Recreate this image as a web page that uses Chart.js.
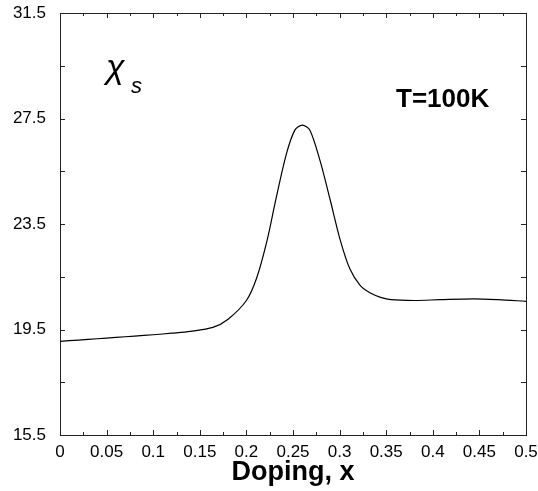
<!DOCTYPE html>
<html>
<head>
<meta charset="utf-8">
<script src="https://cdn.jsdelivr.net/npm/chart.js@4"></script>
<style>
  html, body { margin: 0; padding: 0; background: #fff; }
  #wrap { width: 538px; height: 491px; }
</style>
</head>
<body>
<div id="wrap"><canvas id="chi-chart"></canvas></div>
<script>
// Données (dopage x, susceptibilité chi_s)
const dopage = [0, 0.02, 0.04, 0.06, 0.08, 0.10, 0.12, 0.14, 0.164, 0.18, 0.20,
    0.211, 0.222, 0.232, 0.243, 0.252, 0.26, 0.268, 0.279, 0.29, 0.301, 0.311, 0.322,
    0.333, 0.344, 0.355, 0.38, 0.408, 0.444, 0.47, 0.50];
const chiS = [19.05, 19.1, 19.15, 19.2, 19.25, 19.3, 19.36, 19.43, 19.58, 19.88, 20.6,
    21.45, 22.85, 24.5, 26.17, 27.06, 27.25, 27.06, 25.9, 24.4, 22.85, 21.8, 21.17,
    20.88, 20.72, 20.63, 20.6, 20.63, 20.66, 20.63, 20.57];

// Graduations
const xTicks = [0, 0.05, 0.1, 0.15, 0.2, 0.25, 0.3, 0.35, 0.4, 0.45, 0.5];
const xTickLabels = ['0', '0.05', '0.1', '0.15', '0.2', '0.25', '0.3', '0.35', '0.4', '0.45', '0.5'];
const xMinorTicks = [0.025, 0.075, 0.125, 0.175, 0.225, 0.275, 0.325, 0.375, 0.425, 0.475];
const yTicks = [15.5, 19.5, 23.5, 27.5, 31.5];
const yTickLabels = ['15.5', '19.5', '23.5', '27.5', '31.5'];
const yMinorTicks = [17.5, 21.5, 25.5, 29.5];

const POLICE = 'Arial, "Liberation Sans", Helvetica, sans-serif';

// Pas de marge automatique pour les libellés qui débordent
function sansMarge(scale) {
    scale.paddingTop = 0;
    scale.paddingBottom = 0;
    scale.paddingLeft = 0;
    scale.paddingRight = 0;
}

// Cadre, graduations vers l'intérieur et annotations
const cadrePlugin = {
    id: 'cadre',
    afterDraw(chart) {
        const ctx = chart.ctx;
        const a = chart.chartArea;
        const sx = chart.scales.x;
        const sy = chart.scales.y;
        ctx.save();
        ctx.strokeStyle = '#222';
        ctx.lineWidth = 1;
        ctx.strokeRect(a.left + 0.5, a.top + 0.5, a.right - a.left, a.bottom - a.top);

        const tickX = (v, len) => {
            const px = Math.round(sx.getPixelForValue(v)) + 0.5;
            ctx.beginPath();
            ctx.moveTo(px, a.bottom); ctx.lineTo(px, a.bottom - len);
            ctx.moveTo(px, a.top); ctx.lineTo(px, a.top + len);
            ctx.stroke();
        };
        const tickY = (v, len) => {
            const py = Math.round(sy.getPixelForValue(v)) + 0.5;
            ctx.beginPath();
            ctx.moveTo(a.left, py); ctx.lineTo(a.left + len, py);
            ctx.moveTo(a.right, py); ctx.lineTo(a.right - len, py);
            ctx.stroke();
        };
        xTicks.forEach(v => tickX(v, 5));
        xMinorTicks.forEach(v => tickX(v, 3));
        yTicks.forEach(v => tickY(v, 5));
        yMinorTicks.forEach(v => tickY(v, 5));

        // Annotations
        ctx.fillStyle = '#000';
        ctx.textBaseline = 'alphabetic';
        ctx.textAlign = 'left';
        ctx.font = 'italic 34px ' + POLICE;
        ctx.fillText('χ', a.left + 46, a.top + 65);
        ctx.font = 'italic 22px ' + POLICE;
        ctx.fillText('s', a.left + 71, a.top + 80);
        ctx.font = 'bold 26px ' + POLICE;
        ctx.fillText('T=100K', a.left + 336, a.top + 94);
        ctx.restore();
    }
};

function creerGraphique() {
    const ctx = document.getElementById('chi-chart').getContext('2d');
    return new Chart(ctx, {
        type: 'line',
        data: {
            datasets: [{
                data: dopage.map((x, i) => ({ x: x, y: chiS[i] })),
                borderColor: '#000',
                borderWidth: 1.2,
                pointRadius: 0,
                fill: false,
                tension: 0.3
            }]
        },
        options: {
            responsive: true,
            maintainAspectRatio: false,
            animation: false,
            layout: { padding: { top: 13, right: 12, left: 0, bottom: 0 } },
            plugins: { legend: { display: false }, tooltip: { enabled: false } },
            scales: {
                x: {
                    type: 'linear',
                    min: 0,
                    max: 0.5,
                    afterBuildTicks: (scale) => { scale.ticks = xTicks.map(v => ({ value: v })); },
                    afterFit: (scale) => { scale.height = 56; sansMarge(scale); },
                    grid: { display: false, drawTicks: false },
                    border: { display: false },
                    ticks: {
                        color: '#000',
                        font: { family: POLICE, size: 17 },
                        padding: 7,
                        maxRotation: 0,
                        autoSkip: false,
                        callback: (v) => xTickLabels[xTicks.indexOf(v)]
                    },
                    title: {
                        display: true,
                        text: 'Doping, x',
                        color: '#000',
                        font: { family: POLICE, size: 27, weight: 'bold' },
                        padding: { top: 0, bottom: 2 }
                    }
                },
                y: {
                    type: 'linear',
                    min: 15.5,
                    max: 31.5,
                    afterBuildTicks: (scale) => { scale.ticks = yTicks.map(v => ({ value: v })); },
                    afterFit: (scale) => { scale.width = 60; sansMarge(scale); },
                    grid: { display: false, drawTicks: false },
                    border: { display: false },
                    ticks: {
                        color: '#000',
                        font: { family: POLICE, size: 17 },
                        padding: 14,
                        autoSkip: false,
                        callback: (v) => yTickLabels[yTicks.indexOf(v)]
                    }
                }
            }
        },
        plugins: [cadrePlugin]
    });
}

creerGraphique();
</script>
</body>
</html>
